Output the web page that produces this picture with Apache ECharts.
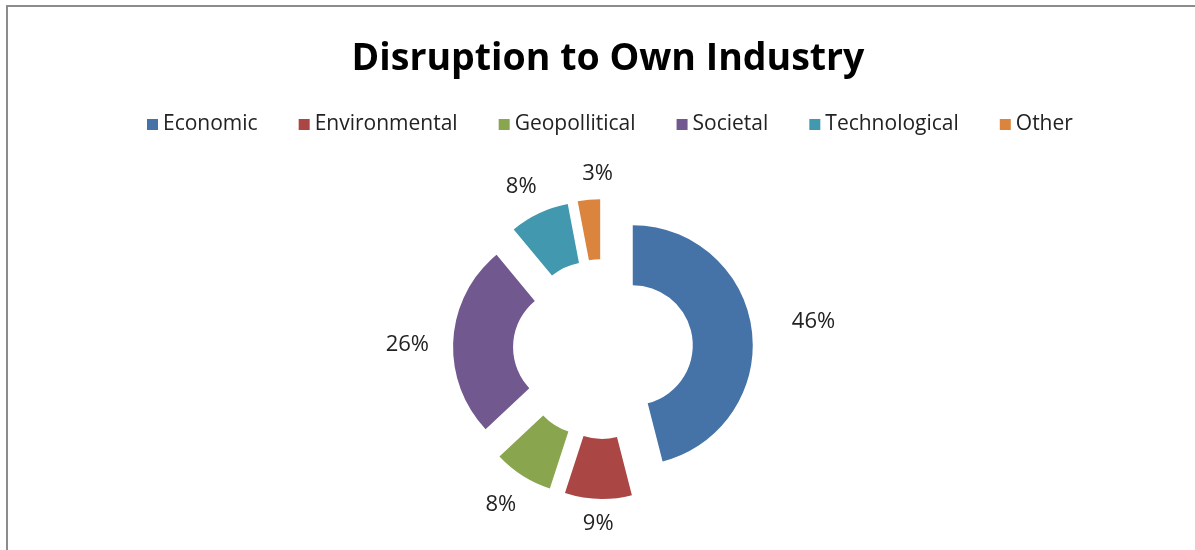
<!DOCTYPE html>
<html>
<head>
<meta charset="utf-8">
<script src="https://cdn.jsdelivr.net/npm/echarts@6/dist/echarts.min.js"></script>
<style>
  html, body { margin: 0; padding: 0; background: #fff; }
  #chart { width: 1195px; height: 550px; position: relative; }
  #frame { position: absolute; left: 6px; top: 5px; width: 1200px; height: 560px; border: 2px solid #8c8c8c; box-sizing: border-box; pointer-events: none; }
</style>
</head>
<body>
<div id="chart"></div>
<div id="frame"></div>
<script>
const titleText = 'Disruption to Own Industry';
const categories = ['Economic', 'Environmental', 'Geopollitical', 'Societal', 'Technological', 'Other'];
const values = [46, 9, 8, 26, 8, 3];
const colors = ['#4572A7', '#AA4643', '#89A54E', '#71588F', '#4198AF', '#DB843D'];

// per-label nudges to mimic the reference placement of the percentage labels
const labelNudges = [[27, -4], [1, -10], [-3, 0], [-11, 7], [-3, 5], [12, 9]];

const chart = echarts.init(document.getElementById('chart'));
const fontFam = '"Open Sans", "Liberation Sans", sans-serif';
chart.setOption({
  animation: false,
  color: colors,
  title: {
    text: titleText,
    left: 603,
    textAlign: 'center',
    top: 35,
    textStyle: { fontFamily: fontFam, fontSize: 37.5, fontWeight: 'bold', color: '#000' }
  },
  legend: {
    data: categories,
    top: 109,
    left: 142,
    icon: 'rect',
    itemWidth: 11,
    itemHeight: 11,
    itemGap: 41,
    textStyle: { fontFamily: fontFam, fontSize: 21, color: '#222' },
    selectedMode: false
  },
  series: [{
    type: 'pie',
    center: [603, 349],
    radius: [60, 120],
    startAngle: 90,
    clockwise: true,
    selectedMode: 'multiple',
    selectedOffset: 30,
    label: { show: false },
    labelLine: { show: false },
    emphasis: { disabled: true },
    itemStyle: { borderWidth: 0 },
    data: categories.map((c, i) => ({ name: c, value: values[i], selected: true, itemStyle: { color: colors[i] } }))
  }, {
    type: 'pie',
    center: [603, 349],
    radius: [150, 214],
    startAngle: 90,
    clockwise: true,
    silent: true,
    itemStyle: { color: 'rgba(0,0,0,0)', borderWidth: 0 },
    emphasis: { disabled: true },
    label: {
      show: true,
      position: 'inside',
      formatter: '{d}%',
      fontFamily: fontFam,
      fontSize: 22,
      color: '#222'
    },
    labelLine: { show: false },
    data: categories.map((c, i) => ({ name: c, value: values[i], label: { offset: labelNudges[i] } }))
  }]
});
</script>
</body>
</html>
